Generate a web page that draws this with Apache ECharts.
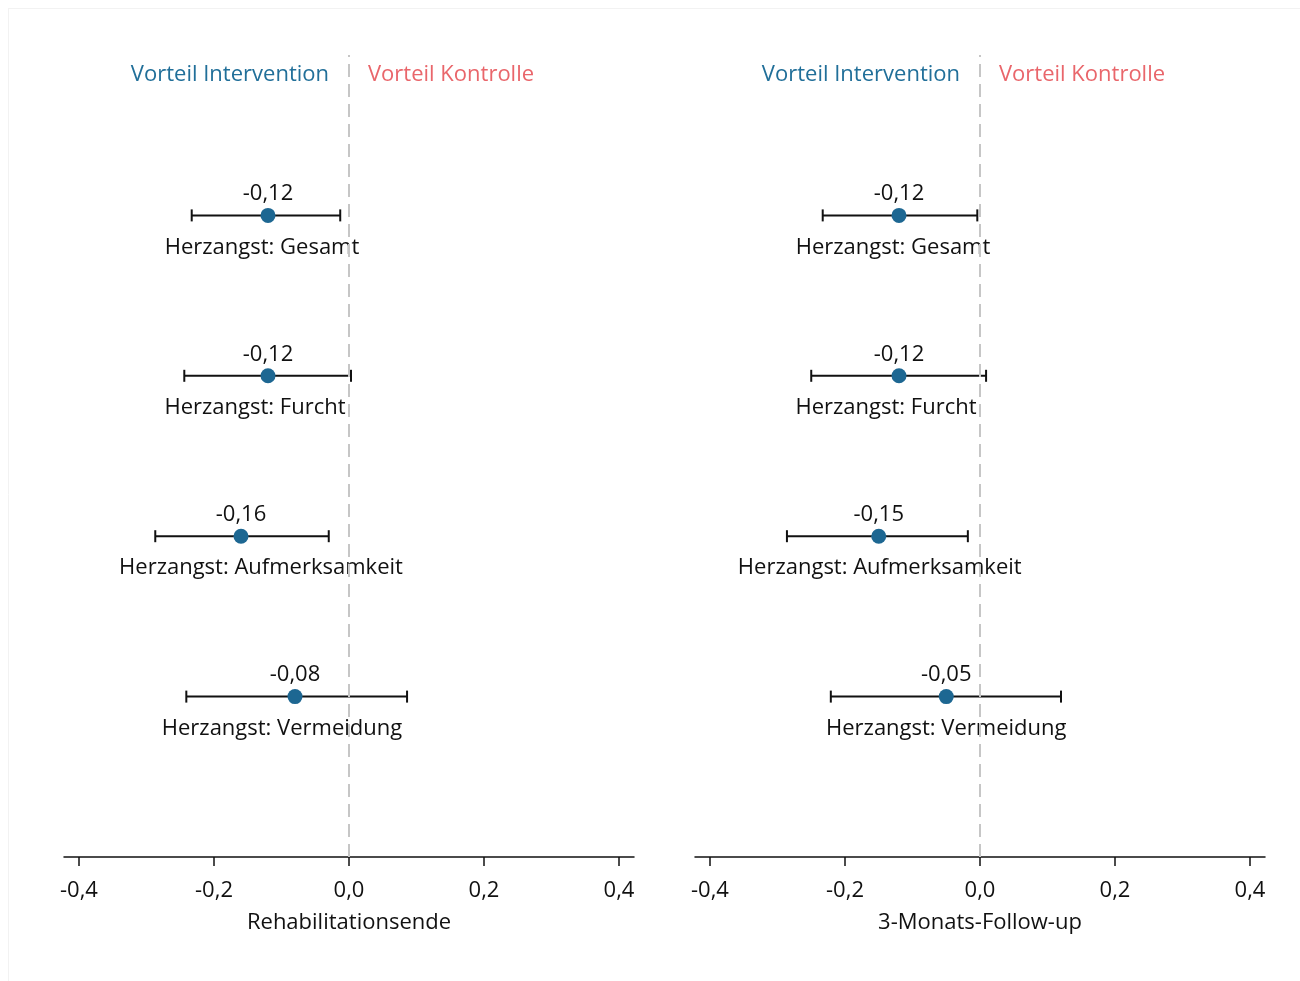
<!DOCTYPE html>
<html>
<head>
<meta charset="utf-8">
<script src="https://cdn.jsdelivr.net/npm/echarts@6/dist/echarts.min.js"></script>
<style>
  html, body { margin: 0; padding: 0; background: #ffffff; }
  #chart { width: 1300px; height: 981px; }
</style>
</head>
<body>
<div id="chart"></div>
<script>
// Outcome measures (top to bottom)
const categories = [
  'Herzangst: Gesamt',
  'Herzangst: Furcht',
  'Herzangst: Aufmerksamkeit',
  'Herzangst: Vermeidung'
];

// Effect estimates and 95% confidence limits per time point
const rehaEffect = [-0.12, -0.12, -0.16, -0.08];
const rehaLower  = [-0.233, -0.244, -0.287, -0.241];
const rehaUpper  = [-0.013, 0.003, -0.030, 0.086];

const followEffect = [-0.12, -0.12, -0.15, -0.05];
const followLower  = [-0.233, -0.250, -0.286, -0.221];
const followUpper  = [-0.004, 0.009, -0.018, 0.120];

const panelTitles = ['Rehabilitationsende', '3-Monats-Follow-up'];
const tickValues = [-0.4, -0.2, 0.0, 0.2, 0.4];
const headerLeft = 'Vorteil Intervention';
const headerRight = 'Vorteil Kontrolle';

const FONT = 'Open Sans';
const FS = 22;
const BLUE = '#1d6792';
const HEAD_BLUE = '#216f99';
const RED = '#e9666b';
const INK = '#111111';

// horizontal nudge (px) of each category caption relative to its point
const captionShift = [
  [-6, -13, 20, -13],
  [-6, -13, 1, 0]
];

const fmt = v => (v < 0 ? '-' : '') + Math.abs(v).toFixed(2).replace('.', ',');
const fmtTick = v => (v < 0 ? '-' : '') + Math.abs(v).toFixed(1).replace('.', ',');

const panels = [
  { eff: rehaEffect, lo: rehaLower, hi: rehaUpper, left: 64 },
  { eff: followEffect, lo: followLower, hi: followUpper, left: 695 }
];

const nRows = categories.length;
// row k (0 = top) sits at y = nRows - k on a 0..nRows+1 value axis
const rowY = k => nRows - k;

const grids = [], xAxes = [], yAxes = [], series = [];

panels.forEach((p, i) => {
  grids.push({ left: p.left, width: 570, top: 55, height: 802 });
  xAxes.push({
    type: 'value', gridIndex: i, min: -0.4222, max: 0.4222,
    splitLine: { show: false },
    axisLine: { show: true, lineStyle: { color: INK, width: 1.5 } },
    axisTick: { show: true, length: 9, customValues: tickValues, lineStyle: { color: INK, width: 1.5 } },
    axisLabel: {
      customValues: tickValues, formatter: fmtTick, margin: 23,
      color: INK, fontFamily: FONT, fontSize: FS
    },
    name: panelTitles[i], nameLocation: 'middle', nameGap: 55,
    nameTextStyle: { color: INK, fontFamily: FONT, fontSize: FS }
  });
  yAxes.push({
    type: 'value', gridIndex: i, min: 0, max: nRows + 1,
    show: false, splitLine: { show: false }
  });

  // confidence intervals with end caps
  series.push({
    type: 'custom', xAxisIndex: i, yAxisIndex: i, silent: true,
    data: p.eff.map((_, k) => [p.lo[k], p.hi[k], rowY(k)]),
    renderItem: (params, api) => {
      const a = api.coord([api.value(0), api.value(2)]);
      const b = api.coord([api.value(1), api.value(2)]);
      const cap = 6;
      const style = { stroke: INK, lineWidth: 2 };
      return {
        type: 'group',
        children: [
          { type: 'line', shape: { x1: a[0], y1: a[1], x2: b[0], y2: b[1] }, style },
          { type: 'line', shape: { x1: a[0], y1: a[1] - cap, x2: a[0], y2: a[1] + cap }, style },
          { type: 'line', shape: { x1: b[0], y1: b[1] - cap, x2: b[0], y2: b[1] + cap }, style }
        ]
      };
    },
    z: 3
  });

  // point estimates with value label above
  series.push({
    type: 'scatter', xAxisIndex: i, yAxisIndex: i, silent: true,
    symbolSize: 15,
    itemStyle: { color: BLUE, opacity: 1 },
    data: p.eff.map((v, k) => [v, rowY(k)]),
    label: {
      show: true, position: 'top', distance: 3,
      formatter: d => fmt(d.value[0]),
      color: INK, fontFamily: FONT, fontSize: FS
    },
    z: 5
  });

  // category captions below each row
  series.push({
    type: 'scatter', xAxisIndex: i, yAxisIndex: i, silent: true,
    symbolSize: 0,
    itemStyle: { opacity: 1 },
    data: p.eff.map((v, k) => ({
      value: [v, rowY(k)],
      label: { offset: [captionShift[i][k], 32] }
    })),
    label: {
      show: true, position: 'inside',
      formatter: d => categories[d.dataIndex],
      color: INK, fontFamily: FONT, fontSize: FS
    },
    z: 4
  });

  // reference line at zero and the direction headers
  series.push({
    type: 'scatter', xAxisIndex: i, yAxisIndex: i, silent: true,
    symbolSize: 0,
    itemStyle: { opacity: 1 },
    data: [
      { value: [0, nRows + 0.875], label: { position: 'left', distance: 20, color: HEAD_BLUE, formatter: headerLeft } },
      { value: [0, nRows + 0.875], label: { position: 'right', distance: 19, color: RED, formatter: headerRight } }
    ],
    label: { show: true, fontFamily: FONT, fontSize: FS },
    markLine: {
      silent: true, symbol: 'none', animation: false,
      lineStyle: { color: '#c6c6c6', width: 2, type: [13, 7], opacity: 1 },
      label: { show: false },
      data: [[{ coord: [0, 0] }, { coord: [0, nRows + 1] }]]
    },
    z: 1
  });
});

const chart = echarts.init(document.getElementById('chart'), null, { renderer: 'canvas' });
chart.setOption({
  backgroundColor: '#ffffff',
  animation: false,
  grid: grids,
  xAxis: xAxes,
  yAxis: yAxes,
  series: series,
  graphic: [
    { type: 'line', shape: { x1: 8.5, y1: 8, x2: 8.5, y2: 981 }, style: { stroke: '#f2f2f2', lineWidth: 1 }, silent: true },
    { type: 'line', shape: { x1: 8, y1: 8.5, x2: 1300, y2: 8.5 }, style: { stroke: '#f2f2f2', lineWidth: 1 }, silent: true }
  ]
});
</script>
</body>
</html>
